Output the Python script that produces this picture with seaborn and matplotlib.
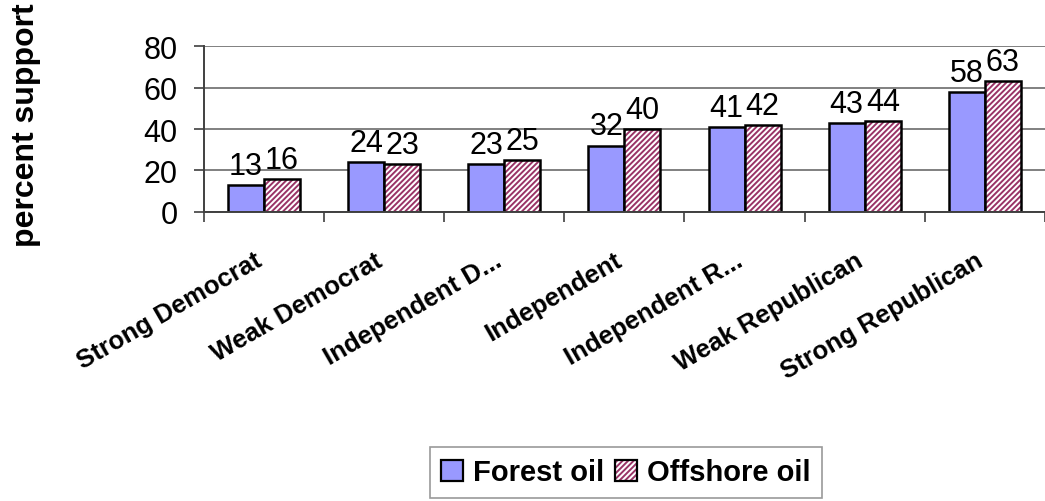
import numpy as np
import pandas as pd
import matplotlib
matplotlib.use("Agg")
import matplotlib.pyplot as plt
import matplotlib.transforms as mtransforms
import seaborn as sns
from matplotlib.patches import Patch, Rectangle

categories = ["Strong Democrat", "Weak Democrat", "Independent D...", "Independent",
              "Independent R...", "Weak Republican", "Strong Republican"]
forest_oil = [13, 24, 23, 32, 41, 43, 58]
offshore_oil = [16, 23, 25, 40, 42, 44, 63]
series = ["Forest oil", "Offshore oil"]

BLUE = "#9999FF"
MAROON = "#993366"
HATCH = "//////"

df = pd.DataFrame({
    "group": categories * 2,
    "value": forest_oil + offshore_oil,
    "series": [series[0]] * len(categories) + [series[1]] * len(categories),
})

sns.set_style("white")
plt.rcParams["font.family"] = ["Liberation Sans", "DejaVu Sans"]
plt.rcParams["hatch.linewidth"] = 1.4
# plain black text like the original
for key in ["text.color", "axes.labelcolor", "xtick.labelcolor", "ytick.labelcolor"]:
    plt.rcParams[key] = "black"

fig = plt.figure(figsize=(10.45, 5.02), dpi=100)
ax = fig.add_axes([0.195, 0.576, 0.805, 0.330])

sns.barplot(data=df, x="group", y="value", hue="series",
            palette=[BLUE, "#FFFFFF"], saturation=1, width=0.6, gap=0,
            edgecolor="black", linewidth=1.8, ax=ax, legend=False)

# offshore bars: maroon stripes (hatch follows edge colour), then a black outline on top
for bar in ax.containers[1]:
    bar.set_hatch(HATCH)
    bar.set_edgecolor(MAROON)
    bar.set_linewidth(0)
    ax.add_patch(Rectangle(bar.get_xy(), bar.get_width(), bar.get_height(),
                           fill=False, edgecolor="black", linewidth=1.8,
                           zorder=bar.get_zorder() + 0.1, transform=ax.transData))

# value labels
for cont in ax.containers:
    ax.bar_label(cont, fontsize=22, padding=3, color="black")

ax.set_ylim(0, 80)
ax.set_yticks([0, 20, 40, 60, 80])
ax.set_xlim(-0.5, len(categories) - 0.5)
ax.yaxis.grid(True, color="#808080", linewidth=1.4)
ax.set_axisbelow(True)
for s in ["top", "right"]:
    ax.spines[s].set_visible(False)
for s in ["left", "bottom"]:
    ax.spines[s].set_color("#404040")
    ax.spines[s].set_linewidth(1.4)

ax.tick_params(axis="y", labelsize=22, length=7, width=1.2, color="#404040",
               labelcolor="black", left=True, pad=12)
ax.set_xticks(np.arange(len(categories)))
ax.set_xticklabels(categories, rotation=30, ha="right", rotation_mode="anchor",
                   fontsize=18.5, fontweight="bold", color="black")
ax.tick_params(axis="x", which="major", length=0, pad=26)
shift = mtransforms.ScaledTranslation(-10 / 100, 0, fig.dpi_scale_trans)
for lbl in ax.get_xticklabels():
    lbl.set_transform(lbl.get_transform() + shift)
ax.set_xticks(np.arange(len(categories) + 1) - 0.5, minor=True)
ax.tick_params(axis="x", which="minor", bottom=True, length=7, width=1.2,
               color="#404040")

ax.set_xlabel("")
ax.set_ylabel("percent support", fontsize=23, fontweight="bold", color="black")
ax.yaxis.set_label_coords(-0.193, 0.53)

h_forest = Patch(facecolor=BLUE, edgecolor="black", linewidth=1.6)
h_off = (Patch(facecolor="white", edgecolor=MAROON, linewidth=0, hatch=HATCH),
         Patch(fill=False, edgecolor="black", linewidth=1.6))
leg = fig.legend(handles=[h_forest, h_off], labels=series, loc="lower center",
                 bbox_to_anchor=(0.599, 0.0), ncol=2, frameon=True, fancybox=False,
                 prop={"weight": "bold", "size": 21}, handlelength=0.75,
                 handleheight=0.75, handletextpad=0.35, columnspacing=0.35,
                 borderpad=0.4, borderaxespad=0.1)
leg.get_frame().set_edgecolor("#808080")
leg.get_frame().set_linewidth(1.2)
for t in leg.get_texts():
    t.set_color("black")

fig.savefig("out.png", dpi=100)
